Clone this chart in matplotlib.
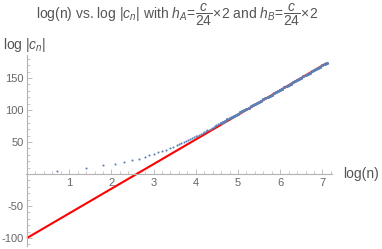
import matplotlib
matplotlib.use("Agg")
import matplotlib.pyplot as plt
from matplotlib.ticker import MultipleLocator

plt.rcParams['font.family'] = ['Liberation Sans', 'DejaVu Sans']
plt.rcParams['mathtext.fontset'] = 'custom'
plt.rcParams['mathtext.rm'] = 'Liberation Sans'
plt.rcParams['mathtext.it'] = 'Liberation Sans:italic'
plt.rcParams['mathtext.bf'] = 'Liberation Sans:bold'
plt.rcParams['axes.unicode_minus'] = False

# ── Data ──────────────────────────────────────
# separate dots (small n)
sparse_logn = [0.70, 1.39, 1.80, 2.09, 2.31, 2.50, 2.66, 2.79, 2.90, 3.00,
               3.11, 3.21, 3.30, 3.39, 3.47, 3.55, 3.61, 3.66, 3.72, 3.77,
               3.82, 3.87, 3.91, 3.96, 4.00, 4.04, 4.08, 4.12, 4.16, 4.20,
               4.24, 4.27, 4.31, 4.35, 4.39, 4.42, 4.46, 4.49, 4.53, 4.56]
sparse_logc = [5.2, 9.8, 13.4, 16.3, 19.0, 21.6, 24.2, 26.9, 29.3, 31.5,
               33.9, 36.2, 38.3, 40.5, 42.7, 45.0, 46.7, 48.1, 50.0, 51.4,
               52.9, 54.6, 55.9, 57.5, 58.8, 60.2, 61.6, 63.0, 64.3, 65.7,
               67.1, 68.1, 69.6, 71.0, 72.4, 73.5, 75.0, 76.1, 77.6, 78.7]

# dense part (dots merge into a band)
dense_logn = [4.60, 4.65, 4.70, 4.75, 4.80, 4.85, 4.90, 4.95, 5.00, 5.05,
              5.10, 5.15, 5.20, 5.25, 5.30, 5.35, 5.40, 5.45, 5.50, 5.55,
              5.60, 5.65, 5.70, 5.75, 5.80, 5.85, 5.90, 5.95, 6.00, 6.05,
              6.10, 6.15, 6.20, 6.25, 6.30, 6.35, 6.40, 6.45, 6.50, 6.55,
              6.60, 6.65, 6.70, 6.75, 6.80, 6.85, 6.90, 6.95, 7.00, 7.05,
              7.10]
dense_logc = [79.9, 81.7, 83.6, 85.4, 87.2, 89.0, 90.9, 92.7, 94.5, 96.3,
              98.2, 100.0, 101.8, 103.6, 105.6, 107.4, 109.2, 111.0, 113.0, 114.8,
              116.6, 118.5, 120.4, 122.3, 124.2, 126.0, 128.0, 129.9, 131.7, 133.6,
              135.6, 137.5, 139.3, 141.2, 143.2, 145.1, 147.0, 148.8, 150.8, 152.7,
              154.6, 156.5, 158.5, 160.3, 162.2, 164.1, 166.1, 168.0, 169.9, 171.8,
              173.8]

# fitted straight line (red)
fit_logn = [0.0, 7.10]
fit_logc = [-100.0, 173.4]

x_ticks = [1, 2, 3, 4, 5, 6, 7]
y_ticks = [-100, -50, 50, 100, 150]

DOT = "#5E81B5"
AXIS = "#b3b3b3"
TICKTXT = "#666666"
TXT = "#555555"

fig = plt.figure(figsize=(3.82, 2.49), dpi=100)
ax = fig.add_axes([0.0673, 0.012, 0.801, 0.767])
ax.set_xlim(-0.03, 7.22)
ax.set_ylim(-112.5, 186)

ax.plot(fit_logn, fit_logc, color="#ff0000", lw=1.5, solid_capstyle='butt', zorder=2)
ax.plot(sparse_logn, sparse_logc, 'o', color=DOT, ms=1.5, mew=0, zorder=3)
ax.plot(dense_logn, dense_logc, 'o', color=DOT, ms=2.3, mew=0, zorder=3)

# Mathematica-style axes crossing at the origin
for side in ("top", "right"):
    ax.spines[side].set_visible(False)
ax.spines['left'].set_position(('data', 0))
ax.spines['bottom'].set_position(('data', 0))
for side in ("left", "bottom"):
    ax.spines[side].set_color(AXIS)
    ax.spines[side].set_linewidth(0.8)

ax.set_xticks(x_ticks)
ax.set_yticks(y_ticks)
ax.xaxis.set_minor_locator(MultipleLocator(0.2))
ax.yaxis.set_minor_locator(MultipleLocator(10))
ax.tick_params(which='major', direction='in', length=3.5, width=0.6,
               color=AXIS, labelcolor=TICKTXT, labelsize=8, pad=3)
ax.tick_params(axis='y', which='major', pad=2.5)
ax.tick_params(which='minor', direction='in', length=2, width=0.5, color=AXIS)

fig.text(343 / 382, 1 - 174 / 249, "log(n)", ha='left', va='center',
         fontsize=10, color=TXT)
fig.text(3 / 382, 1 - 45 / 249, r"log $|c_n|$", ha='left', va='center',
         fontsize=10, color=TXT)
fig.text(177 / 382, 1 - 15 / 249,
         r"log(n) vs. log $|c_n|$ with $h_A\!=\!\dfrac{c}{24}\!\times\!2$ and "
         r"$h_B\!=\!\dfrac{c}{24}\!\times\!2$",
         ha='center', va='center', fontsize=10, color=TXT)

plt.savefig("out.png", dpi=100)
